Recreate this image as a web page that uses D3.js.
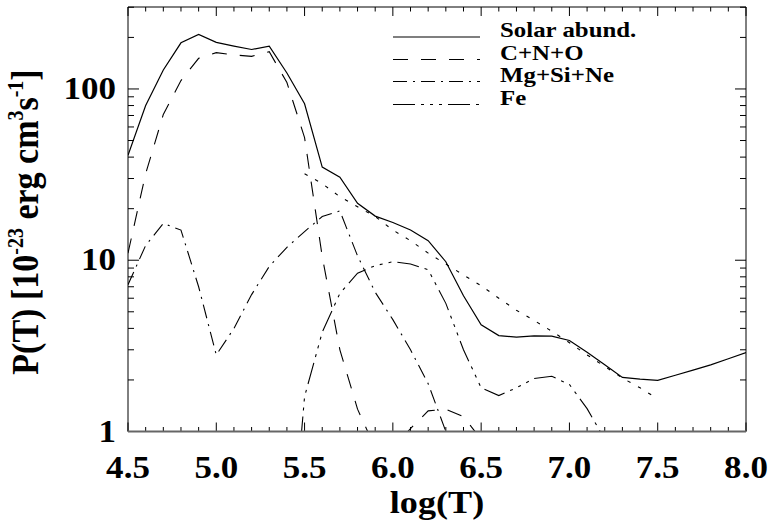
<!DOCTYPE html>
<html>
<head>
<meta charset="utf-8">
<script src="https://cdn.jsdelivr.net/npm/d3@7"></script>
<style>
  body { margin: 0; background: #fff; }
  .tick-label { font-family: "Liberation Serif", "Times New Roman", Times, "Nimbus Roman", Tinos, serif; font-weight: bold; fill: #000; }
</style>
</head>
<body>
<svg id="chart" width="773" height="525"></svg>
<script>
// ---- data ----
const logT = [4.5, 4.6, 4.7, 4.8, 4.9, 5.0, 5.1, 5.2, 5.3, 5.4,
              5.5, 5.6, 5.7, 5.8, 5.9, 6.0, 6.1, 6.2, 6.3, 6.4,
              6.5, 6.6, 6.7, 6.8, 6.9, 7.0, 7.1, 7.2, 7.3, 7.4,
              7.5, 7.6, 7.7, 7.8, 7.9, 8.0];

const solar = [41, 80, 129, 186, 208, 187, 178, 170, 178, 124,
               82, 35, 30.5, 21.5, 18.1, 16.6, 15.0, 13.0, 9.8, 6.2,
               4.2, 3.63, 3.56, 3.62, 3.6, 3.4, 2.9, 2.45, 2.07, 2.02,
               1.99, 2.13, 2.28, 2.45, 2.66, 2.89];

const cno = [11, 32, 71, 112, 151, 163, 158, 155, 165, 109,
             52, 10.5, 3.0, 1.35, 0.8, 0.8, 1.04, 1.32, 1.35, 1.22,
             0.9, null, null, null, null, null, null, null, null, null,
             null, null, null, null, null, null];

const mgSiNe = [7.2, 12.2, 16.4, 15.0, 7.0, 2.8, 4.0, 6.3, 9.2, 11.9,
                14.7, 18.0, 19.4, 10.6, 6.5, 4.5, 3.0, 1.9, 1.0, 0.6,
                null, null, null, null, null, null, null, null, null, null,
                null, null, null, null, null, null];

const fe = [null, null, null, null, null, null, null, null, null, 0.1,
            1.6, 3.8, 6.4, 8.4, 9.3, 9.8, 9.5, 8.8, 5.6, 3.0,
            1.8, 1.62, 1.8, 2.04, 2.1, 1.88, 1.36, 0.9, 0.6, null,
            null, null, null, null, null, null];

// unlabelled dotted curve
const dotted = [null, null, null, null, null, null, null, null, null, null,
                32, 28, 23.5, 20.5, 18, 15, 13, 11, 9.5, 8.2,
                7.1, 6.0, 5.1, 4.45, 3.85, 3.3, 2.8, 2.4, 2.05, 1.8,
                1.55, null, null, null, null, null];

const xTickLabels = ['4.5', '5.0', '5.5', '6.0', '6.5', '7.0', '7.5', '8.0'];
const yTickLabels = ['1', '10', '100'];

const legendNames = ['Solar abund.', 'C+N+O', 'Mg+Si+Ne', 'Fe'];

// ---- layout ----
const SX = 1.13;          // the reference text is a bit wider than Times
const plot = { left: 128, right: 746, top: 7, bottom: 431.5 };
const svg = d3.select('#chart');

const x = d3.scaleLinear().domain([4.5, 8.0]).range([plot.left, plot.right]);
const y = d3.scaleLog().domain([1, 301]).range([plot.bottom, plot.top]);

const series = [
    { name: legendNames[0], values: solar,  dash: null,                 width: 1.2 },
    { name: legendNames[1], values: cno,    dash: '15,13',              width: 1.1 },
    { name: legendNames[2], values: mgSiNe, dash: '14,6,2,6',           width: 1.1 },
    { name: legendNames[3], values: fe,     dash: '22,6,3,6,3,6,3,6',   width: 1.1 },
    { name: null,           values: dotted, dash: '3.5,8.5',            width: 1.1 }
];

svg.append('clipPath').attr('id', 'plot-clip')
    .append('rect')
    .attr('x', plot.left).attr('y', plot.top)
    .attr('width', plot.right - plot.left).attr('height', plot.bottom - plot.top);

// ---- curves ----
const line = d3.line()
    .defined(d => d[1] != null)
    .x(d => x(d[0]))
    .y(d => y(d[1]));

const curves = svg.append('g').attr('clip-path', 'url(#plot-clip)');
series.forEach(s => {
    curves.append('path')
        .attr('d', line(logT.map((t, i) => [t, s.values[i]])))
        .attr('fill', 'none')
        .attr('stroke', '#000')
        .attr('stroke-width', s.width)
        .attr('stroke-dasharray', s.dash);
});

// ---- axes (ticks inside, on all four sides) ----
const xMinor = d3.range(45, 81).map(v => v / 10);
const xMajor = xTickLabels.map(Number);
const yMinor = [];
[1, 10, 100].forEach(dec => { for (let k = 1; k <= 9; k++) if (dec * k <= 301) yMinor.push(dec * k); });
const yMajor = yTickLabels.map(Number);

const axisG = svg.append('g').attr('stroke', '#000').attr('stroke-width', 1);

// bottom & top
xMinor.forEach(v => {
    const L = xMajor.includes(v) ? 9 : 4.5;
    axisG.append('line').attr('x1', x(v)).attr('x2', x(v))
        .attr('y1', plot.bottom).attr('y2', plot.bottom - L);
    axisG.append('line').attr('x1', x(v)).attr('x2', x(v))
        .attr('y1', plot.top).attr('y2', plot.top + L);
});
// left & right
yMinor.forEach(v => {
    const L = yMajor.includes(v) ? 11 : 6;
    axisG.append('line').attr('y1', y(v)).attr('y2', y(v))
        .attr('x1', plot.left).attr('x2', plot.left + L);
    axisG.append('line').attr('y1', y(v)).attr('y2', y(v))
        .attr('x1', plot.right).attr('x2', plot.right - L);
});

// frame
axisG.append('line').attr('x1', plot.left).attr('x2', plot.right).attr('y1', plot.top).attr('y2', plot.top);
axisG.append('line').attr('x1', plot.left).attr('x2', plot.left).attr('y1', plot.top).attr('y2', plot.bottom);
axisG.append('line').attr('x1', plot.right).attr('x2', plot.right).attr('y1', plot.top).attr('y2', plot.bottom);
axisG.append('line').attr('x1', plot.left).attr('x2', plot.right).attr('y1', plot.bottom).attr('y2', plot.bottom)
    .attr('stroke', '#666').attr('stroke-width', 2);

// ---- text ----
function label(px, py, str, size, anchor) {
    return svg.append('text')
        .attr('class', 'tick-label')
        .attr('transform', `translate(${px},${py}) scale(${SX},1)`)
        .attr('text-anchor', anchor)
        .style('font-size', size + 'px')
        .text(str);
}

xTickLabels.forEach(t => label(x(+t), 478, t, 31, 'middle'));
yTickLabels.forEach(t => label(116, y(+t) + 10, t, 31, 'end'));

label((plot.left + plot.right) / 2, 513, 'log(T)', 32, 'middle');

// y title, rotated, with superscripts
const yTitle = svg.append('text')
    .attr('class', 'tick-label')
    .attr('transform', `translate(38,222) scale(${SX},1) rotate(-90)`)
    .attr('text-anchor', 'middle')
    .style('font-size', '34px');
const pieces = [
    ['P(T) [10', false], ['-23', true], [' erg cm', false], ['3', true],
    ['s', false], ['-1', true], [']', false]
];
pieces.forEach(([txt, sup]) => {
    yTitle.append('tspan')
        .attr('dy', sup ? -13 : 13)
        .style('font-size', sup ? '20px' : '34px')
        .text(txt);
});
yTitle.select('tspan').attr('dy', 0);

// ---- legend ----
const legendY = [37, 59.5, 81.5, 104.5];
series.slice(0, 4).forEach((s, i) => {
    svg.append('line')
        .attr('x1', 393).attr('x2', 480)
        .attr('y1', legendY[i]).attr('y2', legendY[i])
        .attr('stroke', '#000').attr('stroke-width', s.width)
        .attr('stroke-dasharray', s.dash);
    label(500, legendY[i], s.name, 22, 'start');
});
</script>
</body>
</html>
